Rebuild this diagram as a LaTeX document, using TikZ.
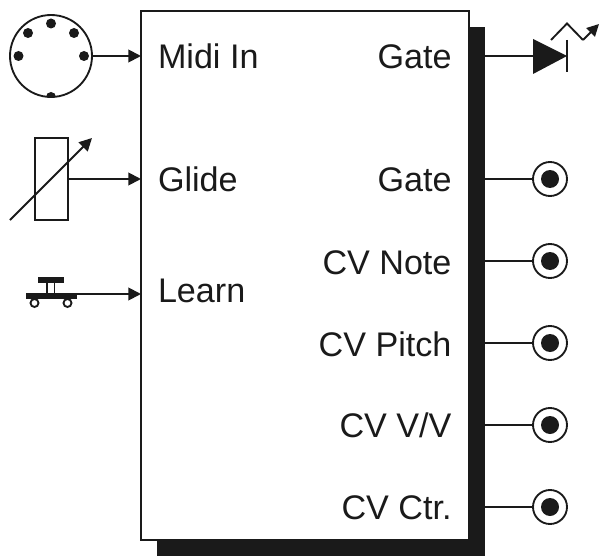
\documentclass[tikz,border=0pt]{standalone}
\usepackage{fontspec}
\setmainfont{Liberation Sans}
\usetikzlibrary{arrows.meta}
\definecolor{ink}{HTML}{1A1A1A}
\tikzset{
  x=0.75pt,y=-0.75pt,
  wire/.style={draw=ink,line width=1.4pt},
  sig/.style={wire,-{Triangle[length=9.5pt,width=9.5pt,fill=ink]}},
  label/.style={font=\fontsize{25.6pt}{30pt}\selectfont,text=ink,inner sep=0pt,outer sep=0pt},
  inlabel/.style={label,anchor=base west},
  outlabel/.style={label,anchor=base east},
  dot/.style={circle,fill=ink,minimum size=7.5pt,inner sep=0pt,outer sep=0pt},
  jackring/.style={circle,draw=ink,line width=1.4pt,fill=white,minimum size=25.5pt,inner sep=0pt,outer sep=0pt},
  jackdot/.style={circle,fill=ink,minimum size=13.5pt,inner sep=0pt},
  solidbar/.style={fill=ink,draw=none,inner sep=0pt,outer sep=0pt,rectangle},
}
\begin{document}
\begin{tikzpicture}
\useasboundingbox (0,0) rectangle (599,556);
% shadow and box
\node[solidbar,minimum width=246pt,minimum height=397pt] (shadow) at (321,291.5) {};
\node[rectangle,draw=ink,line width=1.4pt,fill=white,minimum width=246pt,minimum height=396.75pt,inner sep=0pt,outer sep=0pt] (main) at (305,275.5) {};
% labels
\node[inlabel] (lmidi) at (158,68.5) {Midi In};
\node[inlabel] (lglide) at (158,191) {Glide};
\node[inlabel] (llearn) at (158,302) {Learn};
\node[outlabel] (lgate) at (451.5,68.5) {Gate};
\node[outlabel] (lgateb) at (451.5,191.5) {Gate};
\node[outlabel] (lnote) at (451.5,274) {CV Note};
\node[outlabel] (lpitch) at (451.5,356) {CV Pitch};
\node[outlabel] (lvv) at (451.5,437) {CV V/V};
\node[outlabel] (lctr) at (451.5,519) {CV Ctr.};
% MIDI socket
\node[circle,draw=ink,line width=1.4pt,minimum size=61.5pt,inner sep=0pt,outer sep=0pt] (midi) at (51,56) {};
\node[dot] (p1) at (51,23.5) {};
\node[dot] (p2) at (28,33) {};
\node[dot] (p3) at (74,33) {};
\node[dot] (p4) at (18.5,56) {};
\node[dot] (p5) at (84,56) {};
\begin{scope}
\clip (51,56) circle[radius=41];
\node[dot] (p6) at (51,97) {};
\end{scope}
\draw[sig] (midi.east) -- (midi.east -| main.west);
% potentiometer
\node[rectangle,draw=ink,line width=1.4pt,minimum width=25pt,minimum height=61.5pt,inner sep=0pt,outer sep=0pt] (pot) at (51.3,179) {};
\coordinate (potA) at (10,220);
\coordinate (potB) at (92,138);
\draw[sig] (potA) -- (potB);
\draw[sig] (pot.east) -- (pot.east -| main.west);
% push button
\node[solidbar,minimum width=38.5pt,minimum height=4.6pt] (sbase) at (51.5,296) {};
\node[solidbar,minimum width=19.5pt,minimum height=4.6pt] (stop) at (51,280) {};
\coordinate (stemL) at (47,283);
\coordinate (stemLb) at (47,294);
\coordinate (stemR) at (54.5,283);
\coordinate (stemRb) at (54.5,294);
\draw[wire] (stemL) -- (stemLb) (stemR) -- (stemRb);
\node[circle,draw=ink,line width=1.4pt,minimum size=6pt,inner sep=0pt] (wl) at (34.5,303) {};
\node[circle,draw=ink,line width=1.4pt,minimum size=6pt,inner sep=0pt] (wr) at (67.5,303) {};
\coordinate (swire) at (77,294);
\draw[sig] (swire) -- (swire -| main.west);
% LED
\coordinate (ledA) at (533,39);
\coordinate (ledB) at (533,74);
\coordinate (ledK) at (567,56);
\coordinate (ledIn) at (533,56);
\fill[ink] (ledA) -- (ledK) -- (ledB) -- cycle;
\draw[wire] (shadow.east |- ledIn) -- (ledIn);
\coordinate (barT) at (567,40);
\coordinate (barB) at (567,72);
\draw[wire] (barT) -- (barB);
\coordinate (z1) at (551,40);
\coordinate (z2) at (567,23.5);
\coordinate (z3) at (583,40);
\coordinate (z4) at (599,24);
\draw[wire] (z1) -- (z2) -- (z3);
\draw[wire,-{Triangle[length=9pt,width=9pt,fill=ink]}] (z3) -- (z4);
% jacks
\foreach \n/\yy in {a/179,b/261,c/343,d/425,e/507}{
  \node[jackring] (j\n) at (550,\yy) {};
  \node[jackdot] (jd\n) at (550,\yy) {};
  \draw[wire] (shadow.east |- j\n) -- (j\n.west);
}
\end{tikzpicture}
\end{document}
